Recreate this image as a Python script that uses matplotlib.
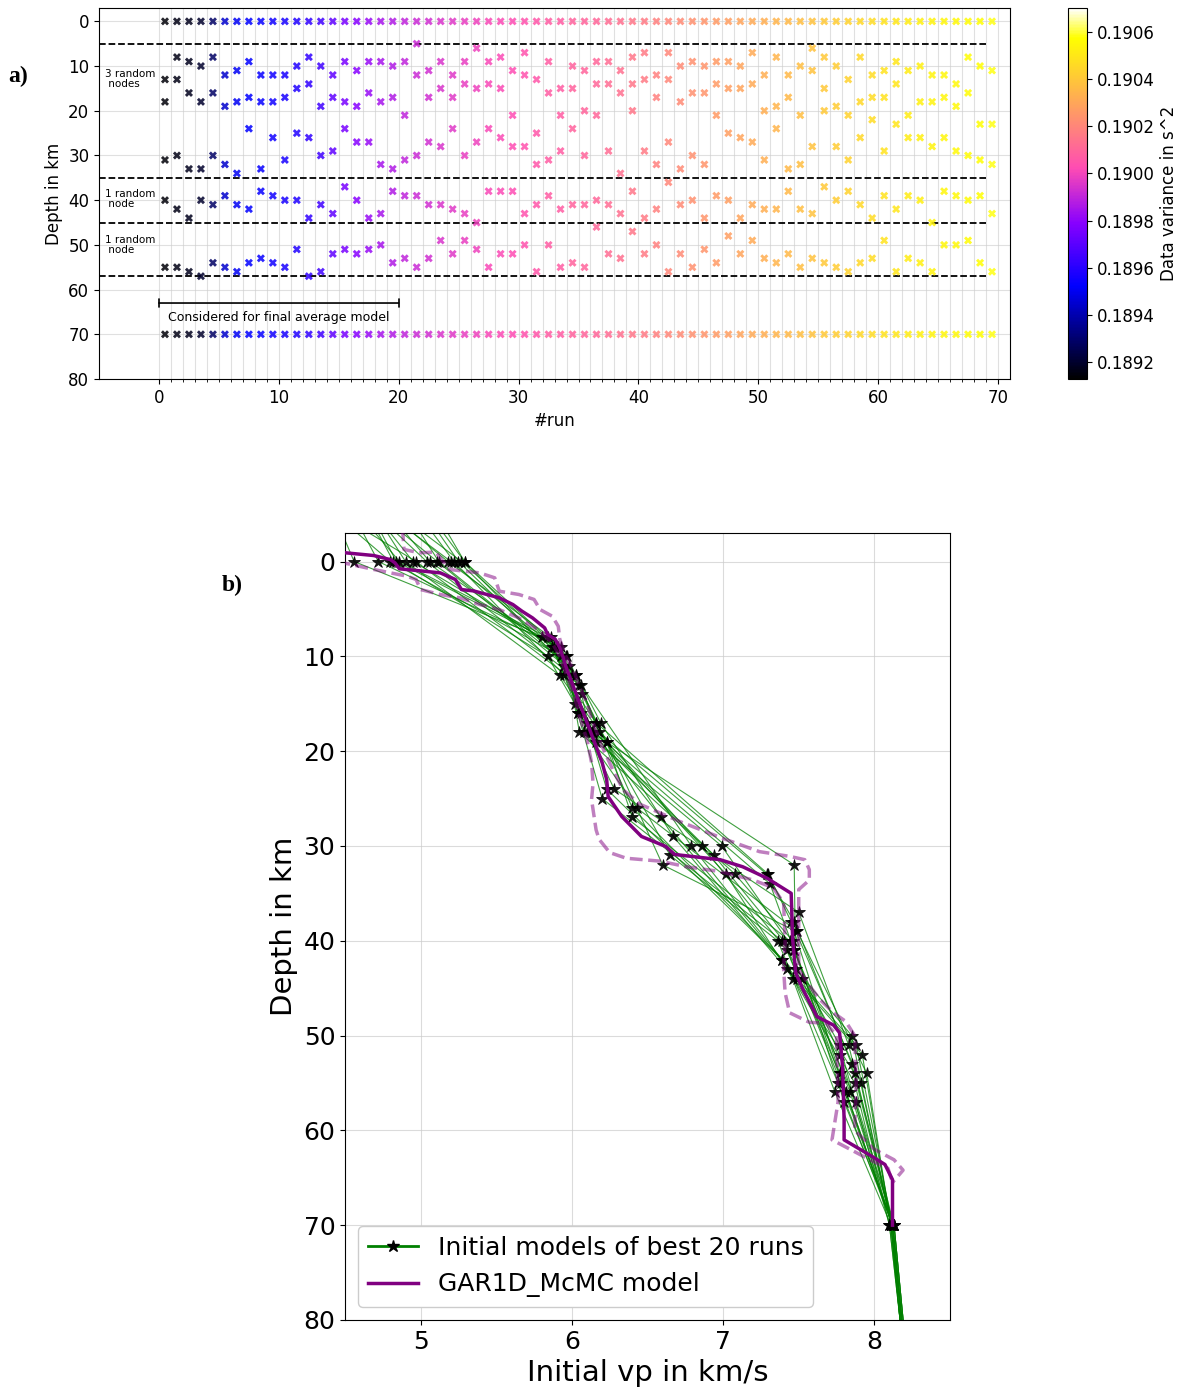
import numpy as np
import matplotlib
matplotlib.use("Agg")
import matplotlib.pyplot as plt
from matplotlib import cm, colors

# ---------------- panel a data ----------------
runs = np.arange(70) + 0.5

# three random nodes between 5 and 35 km
upper_nodes = [
    (13, 18, 31), (8, 13, 30), (9, 16, 33), (10, 18, 33), (8, 16, 30),
    (12, 19, 32), (11, 18, 34), (9, 17, 24), (12, 18, 33), (12, 18, 26),
    (12, 17, 31), (10, 15, 25), (8, 14, 26), (10, 19, 30), (12, 17, 29),
    (9, 18, 24), (11, 19, 27), (9, 16, 27), (9, 18, 32), (10, 17, 33),
    (9, 21, 31), (5, 12, 30), (11, 17, 27), (9, 15, 28), (12, 17, 24),
    (9, 14, 30), (6, 15, 27), (9, 14, 24), (8, 15, 26), (11, 21, 28),
    (7, 12, 28), (13, 25, 32), (9, 16, 31), (15, 21, 29), (10, 15, 24),
    (11, 20, 30), (9, 14, 21), (9, 14, 29), (11, 16, 34), (8, 14, 20),
    (7, 13, 29), (12, 17, 32), (7, 13, 27), (10, 18, 33), (9, 16, 30),
    (10, 16, 32), (9, 14, 21), (9, 15, 25), (10, 15, 26), (7, 14, 27),
    (12, 20, 31), (8, 19, 24), (12, 17, 33), (10, 21, 32), (6, 11, 28),
    (8, 15, 20), (10, 19, 28), (13, 21, 31), (8, 18, 26), (12, 17, 22),
    (11, 17, 29), (9, 14, 23), (11, 21, 26), (10, 18, 26), (12, 18, 28),
    (12, 17, 26), (14, 19, 29), (8, 16, 30), (10, 23, 31), (11, 23, 32),
]
# one random node between 35 and 45 km
middle_node = [
    40, 42, 44, 40, 41, 39, 41, 42, 38, 39, 40, 40, 44, 41, 43, 37, 40, 44, 43, 38,
    39, 39, 41, 41, 42, 43, 45, 38, 38, 38, 43, 41, 39, 42, 41, 41, 40, 41, 43, 38,
    44, 42, 36, 41, 40, 44, 39, 40, 44, 41, 42, 42, 38, 42, 43, 37, 40, 38, 41, 44,
    39, 42, 39, 40, 45, 38, 39, 40, 39, 43,
]
# one random node between 45 and 57 km
lower_node = [
    55, 55, 56, 57, 54, 55, 56, 54, 53, 54, 55, 51, 57, 56, 52, 51, 52, 51, 50, 54,
    53, 55, 53, 49, 52, 49, 51, 55, 52, 52, 50, 56, 50, 55, 54, 55, 46, 52, 53, 47,
    52, 50, 56, 52, 55, 51, 54, 48, 52, 49, 53, 54, 52, 55, 53, 54, 55, 56, 54, 53,
    49, 56, 53, 54, 56, 50, 50, 49, 54, 56,
]
data_variance = [
    0.189146, 0.189161, 0.189177, 0.189201, 0.189287, 0.189444, 0.189507, 0.189523,
    0.189538, 0.189554, 0.189570, 0.189585, 0.189617, 0.189648, 0.189711, 0.189758,
    0.189789, 0.189821, 0.189852, 0.189868, 0.189899, 0.189915, 0.189931, 0.189946,
    0.189962, 0.189978, 0.189994, 0.190009, 0.190017, 0.190025, 0.190041, 0.190056,
    0.190072, 0.190072, 0.190088, 0.190096, 0.190103, 0.190119, 0.190135, 0.190151,
    0.190166, 0.190182, 0.190198, 0.190213, 0.190229, 0.190245, 0.190260, 0.190276,
    0.190292, 0.190308, 0.190323, 0.190339, 0.190355, 0.190370, 0.190386, 0.190402,
    0.190417, 0.190433, 0.190449, 0.190465, 0.190480, 0.190496, 0.190512, 0.190527,
    0.190535, 0.190543, 0.190551, 0.190559, 0.190567, 0.190582,
]
var_min, var_max = 0.18913, 0.19070
cbar_ticks = [0.1892, 0.1894, 0.1896, 0.1898, 0.1900, 0.1902, 0.1904, 0.1906]

# ---------------- panel b data (best 20 runs = runs 0..19) ----------------
vp_top = [4.66, 4.48, 4.95, 5.02, 4.70, 4.78, 5.15, 4.62, 4.88, 4.84,
          5.08, 4.72, 4.95, 4.58, 5.12, 4.80, 5.00, 4.74, 4.90, 5.18]
vp_surface = [4.97, 4.56, 5.20, 5.27, 4.86, 4.90, 5.29, 4.72, 5.11, 5.04,
              5.22, 4.82, 5.18, 4.80, 5.25, 4.95, 5.12, 4.84, 5.06, 5.29]
vp_upper = [
    (6.05, 6.12, 6.94), (5.80, 6.06, 6.79), (5.88, 6.04, 7.02), (5.96, 6.05, 7.08),
    (5.84, 6.06, 6.86), (5.92, 6.23, 6.60), (5.95, 6.14, 7.31), (5.91, 6.10, 6.23),
    (6.03, 6.18, 7.29), (6.00, 6.08, 6.43), (5.95, 6.16, 6.65), (5.84, 6.02, 6.20),
    (5.86, 6.07, 6.40), (5.93, 6.16, 6.99), (6.03, 6.19, 6.67), (5.90, 6.10, 6.28),
    (5.98, 6.23, 6.40), (5.93, 6.04, 6.59), (5.87, 6.13, 7.47), (5.97, 6.16, 7.30),
]
vp_middle = [7.40, 7.39, 7.46, 7.46, 7.42, 7.48, 7.47, 7.39, 7.47, 7.49,
             7.36, 7.39, 7.52, 7.47, 7.42, 7.50, 7.44, 7.49, 7.48, 7.45]
vp_lower = [7.78, 7.87, 7.74, 7.80, 7.77, 7.91, 7.81, 7.87, 7.85, 7.95,
            7.76, 7.77, 7.88, 7.84, 7.92, 7.83, 7.77, 7.88, 7.85, 7.77]
vp_70 = [8.12, 8.10, 8.11, 8.13, 8.12, 8.11, 8.12, 8.13, 8.12, 8.11,
         8.12, 8.10, 8.13, 8.12, 8.11, 8.12, 8.13, 8.12, 8.11, 8.12]
vp_80 = [8.18, 8.17, 8.18, 8.19, 8.18, 8.17, 8.18, 8.19, 8.18, 8.17,
         8.18, 8.17, 8.19, 8.18, 8.17, 8.18, 8.19, 8.18, 8.17, 8.18]

mcmc_vp = [4.45, 4.69, 4.80, 4.83, 4.86, 5.02, 5.13, 5.23, 5.27, 5.35, 5.52, 5.61,
           5.67, 5.74, 5.82, 5.84, 5.89, 5.92, 5.94, 5.96, 6.01, 6.05, 6.11, 6.16,
           6.20, 6.23, 6.24, 6.33, 6.46, 6.62, 6.68, 6.98, 7.13, 7.29, 7.45, 7.46,
           7.48, 7.53, 7.62, 7.73, 7.77, 7.79, 7.80, 7.80, 7.99, 8.07, 8.12, 8.12]
mcmc_depth = [-1.0, -0.63, -0.2, 0.14, 0.77, 1.02, 1.2, 1.9, 2.96, 3.1, 3.83, 4.54,
              5.24, 5.95, 7.0, 7.7, 8.2, 9.1, 10.0, 11.05, 13.2, 14.9, 17.4, 19.5,
              21.2, 23.0, 24.8, 26.9, 29.0, 30.05, 30.9, 31.45, 32.2, 33.4, 35.0, 39.9,
              43.4, 45.2, 48.0, 48.9, 49.7, 53.3, 58.9, 61.0, 62.8, 63.6, 65.2, 70.0]

low_vp = [4.45, 4.69, 4.91, 4.97, 5.00, 5.13, 5.26, 5.39, 5.52, 5.65, 5.79, 5.87,
          5.92, 5.96, 6.01, 6.05, 6.10, 6.13, 6.14, 6.13, 6.16, 6.18, 6.25, 6.36,
          6.58, 6.76, 6.98, 7.20, 7.33, 7.40, 7.41, 7.40, 7.41, 7.44, 7.57, 7.68,
          7.75, 7.76, 7.72, 7.84, 7.97, 8.09, 8.12]
low_depth = [0.0, 0.84, 1.55, 1.9, 2.96, 3.48, 3.83, 4.54, 5.07, 5.95, 7.35, 8.6,
             10.0, 11.75, 13.86, 16.3, 18.8, 21.2, 23.4, 25.1, 28.3, 29.3, 30.7, 31.3,
             31.6, 32.2, 32.7, 33.6, 34.4, 36.0, 40.0, 43.0, 45.5, 47.6, 48.6, 48.7,
             50.0, 57.0, 61.0, 62.0, 63.1, 64.0, 65.5]
high_vp = [4.88, 4.89, 4.99, 5.10, 5.19, 5.39, 5.49, 5.52, 5.65, 5.75, 5.79, 5.87,
           5.91, 5.92, 5.96, 6.01, 6.05, 6.10, 6.14, 6.20, 6.27, 6.34, 6.45, 6.71,
           6.98, 7.24, 7.44, 7.54, 7.57, 7.57, 7.50, 7.50, 7.50, 7.56, 7.64, 7.73,
           7.81, 7.87, 7.88, 7.87, 8.00, 8.13, 8.19, 8.12]
high_depth = [-3.5, -1.27, -0.92, -0.99, 0.84, 1.2, 1.72, 3.13, 3.48, 4.0, 5.07, 5.77,
              6.83, 8.2, 10.0, 11.4, 13.2, 14.9, 17.0, 19.5, 21.95, 24.1, 25.6, 27.4,
              29.1, 30.6, 31.1, 31.45, 32.5, 33.6, 34.6, 38.0, 43.0, 44.5, 46.2, 47.6,
              48.5, 50.0, 55.0, 60.0, 62.0, 63.1, 64.2, 65.5]

# ---------------- figure ----------------
fig = plt.figure(figsize=(11.82, 13.94), dpi=100)

# panel a
ax = fig.add_axes([0.0838, 0.7281, 0.7707, 0.2662])
cmap = plt.get_cmap("gnuplot2")
norm = colors.Normalize(vmin=var_min, vmax=var_max)
run_colors = cmap(norm(np.array(data_variance)))

marker_kw = dict(c=run_colors, marker="X", s=34, alpha=0.85, linewidths=0, zorder=3)
upper = np.array(upper_nodes)
for k in range(3):
    ax.scatter(runs, upper[:, k], **marker_kw)
ax.scatter(runs, np.zeros(70), **marker_kw)
ax.scatter(runs, middle_node, **marker_kw)
ax.scatter(runs, lower_node, **marker_kw)
ax.scatter(runs, np.full(70, 70), **marker_kw)

ax.hlines([5, 35, 45, 57], -5, 69, colors="k", linestyles="--", linewidth=1.3, zorder=2)
ax.annotate("", xy=(0, 63), xytext=(20, 63),
            arrowprops=dict(arrowstyle="|-|,widthA=0.3,widthB=0.3", color="k", lw=1.2,
                            shrinkA=0, shrinkB=0))
ax.text(10, 66.3, "Considered for final average model", ha="center", va="center", fontsize=9)
ax.text(-4.5, 13, "3 random\n nodes", ha="left", va="center", fontsize=7.5, linespacing=1.0)
ax.text(-4.5, 39.8, "1 random\n node", ha="left", va="center", fontsize=7.5, linespacing=1.0)
ax.text(-4.5, 50.0, "1 random\n node", ha="left", va="center", fontsize=7.5, linespacing=1.0)

ax.set_xlim(-5, 71)
ax.set_ylim(80, -3)
ax.set_xticks(np.arange(0, 71, 10))
ax.set_xticks(np.arange(0, 71, 1), minor=True)
ax.set_yticks(np.arange(0, 81, 10))
ax.grid(which="both", axis="x", color="#cccccc", alpha=0.6, linewidth=0.8)
ax.grid(which="major", axis="y", color="#cccccc", alpha=0.6, linewidth=0.8)
ax.tick_params(labelsize=12)
ax.set_xlabel("#run", fontsize=12)
ax.set_ylabel("Depth in km", fontsize=12)

cax = fig.add_axes([0.9036, 0.7281, 0.0161, 0.2662])
sm = cm.ScalarMappable(norm=norm, cmap=cmap)
cb = fig.colorbar(sm, cax=cax, ticks=cbar_ticks)
cb.ax.set_yticklabels([f"{t:.4f}" for t in cbar_ticks])
cb.ax.tick_params(labelsize=12)
cb.set_label("Data variance in s^2", fontsize=12)

fig.text(0.007, 0.941, "a)", fontsize=17, fontweight="bold", family="Liberation Serif")

# panel b
bx = fig.add_axes([0.2919, 0.0531, 0.5118, 0.5645])
for i in range(20):
    depth = [-3, 0, *upper_nodes[i], middle_node[i], lower_node[i], 70, 80]
    vp = [vp_top[i], vp_surface[i], *vp_upper[i], vp_middle[i], vp_lower[i], vp_70[i], vp_80[i]]
    bx.plot(vp, depth, color="green", linewidth=0.8, alpha=0.75, zorder=2)
    bx.plot(vp[1:-1], depth[1:-1], linestyle="none", marker="*", markersize=9,
            markerfacecolor="k", markeredgecolor="k", markeredgewidth=0.6, zorder=3, alpha=0.9)
# legend proxy with star marker
bx.plot([], [], color="green", linewidth=2, marker="*", markersize=9,
        markerfacecolor="k", markeredgecolor="k", label="Initial models of best 20 runs")
bx.plot(mcmc_vp, mcmc_depth, color="purple", linewidth=2.5, zorder=4, label="GAR1D_McMC model")
bx.plot(low_vp, low_depth, color="purple", linewidth=2.5, linestyle="--", alpha=0.5, zorder=4)
bx.plot(high_vp, high_depth, color="purple", linewidth=2.5, linestyle="--", alpha=0.5, zorder=4)

bx.set_xlim(4.5, 8.5)
bx.set_ylim(80, -3)
bx.set_xticks([5, 6, 7, 8])
bx.set_yticks(np.arange(0, 81, 10))
bx.grid(color="#cccccc", alpha=0.7, linewidth=0.8)
bx.tick_params(labelsize=18)
bx.set_xlabel("Initial vp in km/s", fontsize=21)
bx.set_ylabel("Depth in km", fontsize=21)
bx.legend(loc="lower left", fontsize=18, framealpha=1)

fig.text(0.188, 0.576, "b)", fontsize=17, fontweight="bold", family="Liberation Serif")

fig.savefig("out.png", dpi=100)
